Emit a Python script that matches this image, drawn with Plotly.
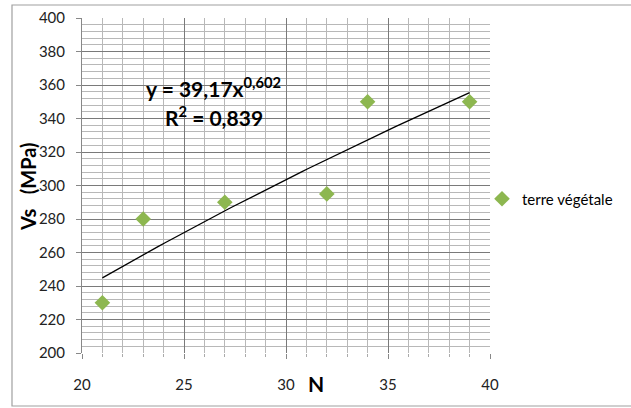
import numpy as np
import plotly.graph_objects as go

# data
n_values = [21, 23, 27, 32, 34, 39]
vs_values = [230, 280, 290, 295, 350, 350]
series_name = "terre végétale"
fit_a = 39.17
fit_b = 0.602
r2 = 0.839
x_ticks = [20, 25, 30, 35, 40]
y_ticks = [200, 220, 240, 260, 280, 300, 320, 340, 360, 380, 400]

W, H = 631, 408
L, R, T, B = 82, 141, 18, 55
pw, ph = W - L - R, H - T - B

FONT = "Lato, Liberation Sans, sans-serif"

fx = np.linspace(min(n_values), max(n_values), 60)
fy = fit_a * fx ** fit_b

fig = go.Figure()
fig.add_trace(go.Scatter(x=fx, y=fy, mode="lines", line=dict(color="#000000", width=1.3),
                         showlegend=False, hoverinfo="skip"))
fig.add_trace(go.Scatter(x=n_values, y=vs_values, mode="markers", name=series_name,
                         marker=dict(symbol="diamond", size=12, color="#8DB750")))

def px_to_paper_x(px):
    return (px - L) / pw

def px_to_paper_y(py):
    return (H - B - py) / ph

fig.add_shape(type="rect", xref="paper", yref="paper",
              x0=px_to_paper_x(12), x1=px_to_paper_x(640),
              y0=px_to_paper_y(406), y1=px_to_paper_y(5),
              line=dict(color="#A0A0A0", width=1.2), fillcolor="rgba(0,0,0,0)", layer="above")

common = dict(xref="paper", yref="paper", showarrow=False, xanchor="center", yanchor="middle")
fig.add_annotation(x=px_to_paper_x(213), y=px_to_paper_y(87),
                   text="<b>y = 39,17x<sup>0,602</sup></b>",
                   font=dict(family=FONT, size=21, color="#000"), **common)
fig.add_annotation(x=px_to_paper_x(214), y=px_to_paper_y(116),
                   text="<b>R<sup>2</sup> = 0,839</b>",
                   font=dict(family=FONT, size=21, color="#000"), **common)
fig.add_annotation(x=px_to_paper_x(316), y=px_to_paper_y(383),
                   text="<b>N</b>", font=dict(family=FONT, size=21, color="#000"), **common)
fig.add_annotation(x=px_to_paper_x(28), y=px_to_paper_y(187),
                   text="<b>Vs&nbsp;&nbsp;&nbsp;(MPa)</b>", textangle=-90,
                   font=dict(family=FONT, size=20, color="#000"), **common)

fig.update_layout(
    width=W, height=H,
    margin=dict(l=L, r=R, t=T, b=B, pad=0, autoexpand=False),
    paper_bgcolor="#ffffff", plot_bgcolor="#ffffff",
    font=dict(family=FONT, size=14, color="#222"),
    legend=dict(x=px_to_paper_x(482), y=px_to_paper_y(199), xanchor="left", yanchor="middle",
                font=dict(family=FONT, size=15, color="#000"), bgcolor="rgba(0,0,0,0)",
                itemwidth=30),
    showlegend=True,
)
fig.update_xaxes(range=[20, 40], tickvals=x_ticks, ticks="outside", ticklen=5, tickcolor="#888",
                 showgrid=True, gridcolor="#7a7a7a", gridwidth=1,
                 minor=dict(dtick=1, showgrid=True, gridcolor="#b8b8b8", ticks="outside", ticklen=3, tickcolor="#aaa"),
                 showline=False, zeroline=False, ticklabelstandoff=13,
                 tickfont=dict(family=FONT, size=15, color="#222"))
fig.update_yaxes(range=[200, 400], tickvals=y_ticks, ticks="outside", ticklen=5, tickcolor="#888",
                 showgrid=True, gridcolor="#7a7a7a", gridwidth=1,
                 minor=dict(dtick=4, showgrid=True, gridcolor="#b8b8b8"),
                 showline=True, linecolor="#888", zeroline=False, ticklabelstandoff=8,
                 tickfont=dict(family=FONT, size=15, color="#222"))

fig.write_html("out.html", config={"displayModeBar": False},
               post_script="document.body.style.margin='0';document.body.style.overflow='hidden';")
